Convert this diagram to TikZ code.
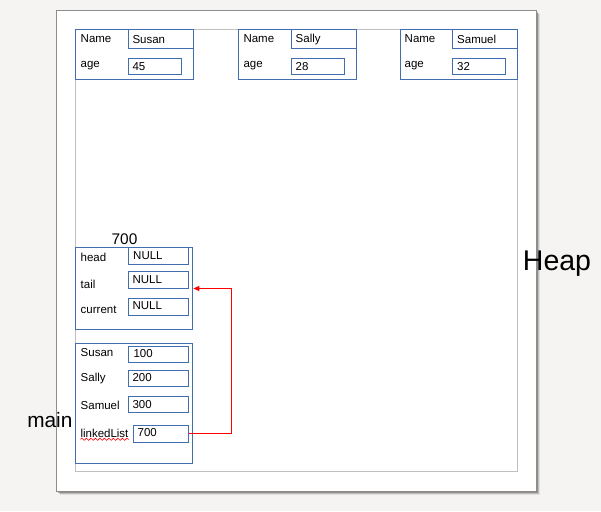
\documentclass[tikz,border=0pt]{standalone}
\usepackage{fontspec}
\setmainfont{Liberation Sans}
\usetikzlibrary{decorations.pathmorphing,arrows.meta}
\definecolor{bgc}{RGB}{245,244,242}
\definecolor{boxc}{RGB}{66,110,176}
\definecolor{pagebd}{RGB}{140,140,140}
\definecolor{marg}{RGB}{192,192,192}
\tikzset{
  recbox/.style={draw=boxc,line width=0.9pt},
  fieldbox/.style={draw=boxc,line width=1pt},
  lbl/.style={anchor=west,inner sep=0pt,font=\fontsize{11.5}{13}\selectfont},
  big/.style={inner sep=0pt,font=\fontsize{#1}{#1}\selectfont},
  ptr/.style={red,line width=1pt,-{Triangle[length=6pt,width=5pt]}}
}
\begin{document}
\begin{tikzpicture}[x=1pt,y=-1pt]
\useasboundingbox (0,0) rectangle (601,511);
\fill[bgc] (0,0) rectangle (601,511);
% page shadow
\fill[black,opacity=0.08] (60,14) rectangle (540,495);
\fill[black,opacity=0.15] (59,13) rectangle (539,494);
\fill[black,opacity=0.25] (58,12) rectangle (538,493);
\fill[black,opacity=0.4] (57,11) rectangle (537,492);
\fill[white] (56,10) rectangle (536,491);
\draw[pagebd,line width=0.6pt] (56,10) rectangle (536,491);
\draw[marg,line width=0.8pt] (75,29) rectangle (517.3,471.5);

% Susan
\draw[recbox] (75.3,29.3) rectangle (193,79.3);
\draw[fieldbox] (128,29.3) rectangle (193,48.3);
\draw[fieldbox] (128,58.3) rectangle (181,74.7);
\node[lbl] (sn1) at (80.5,38.5) {Name};
\node[lbl] (sa1) at (80.5,65.5) {age};
\node[lbl] (sv1) at (132.3,39.3) {Susan};
\node[lbl] (sv2) at (132.3,66.5) {45};

% Sally
\draw[recbox] (238.3,29.3) rectangle (356,79.3);
\draw[fieldbox] (291.3,29.3) rectangle (356,48.3);
\draw[fieldbox] (291.3,58.3) rectangle (344.3,74.3);
\node[lbl] (yn1) at (243.3,38.5) {Name};
\node[lbl] (ya1) at (243.3,65.5) {age};
\node[lbl] (yv1) at (295.5,39.3) {Sally};
\node[lbl] (yv2) at (295.5,66.3) {28};

% Samuel
\draw[recbox] (400,29.3) rectangle (517.3,79.3);
\draw[fieldbox] (452.7,29.3) rectangle (517.3,48.3);
\draw[fieldbox] (452.7,58.3) rectangle (505.3,74.3);
\node[lbl] (mn1) at (404.5,38.5) {Name};
\node[lbl] (ma1) at (404.5,65.5) {age};
\node[lbl] (mv1) at (457,39.3) {Samuel};
\node[lbl] (mv2) at (457,66.3) {32};

% list object 700
\node[big=15.4] (addr) at (124.5,239.5) {700};
\draw[recbox] (75.3,247.7) rectangle (192.7,329);
\draw[fieldbox] (128.7,247.7) rectangle (188.7,264.3);
\draw[fieldbox] (128,271.7) rectangle (188.7,288.3);
\draw[fieldbox] (128,298.3) rectangle (188.7,315);
\coordinate (tailend) at (193.3,288.5);
\node[lbl] (lh) at (80.5,257) {head};
\node[lbl] (lt) at (80.5,284) {tail};
\node[lbl] (lc) at (80.5,310) {current};
\node[lbl] (hv) at (133,255.5) {NULL};
\node[lbl] (tv) at (132.3,279.8) {NULL};
\node[lbl] (cv) at (132.3,305.8) {NULL};

% main frame
\draw[recbox] (75.3,343.3) rectangle (192.7,463.3);
\draw[fieldbox] (128.7,346) rectangle (188.7,362.7);
\draw[fieldbox] (128,370) rectangle (188.7,386.7);
\draw[fieldbox] (128,396.7) rectangle (188.7,412.7);
\draw[fieldbox] (133.3,425) rectangle (188.7,442.3);
\coordinate (llstart) at (189.2,433.5);
\coordinate (bend) at (231.5,288.5);
\node[lbl] (ms) at (80.5,352.7) {Susan};
\node[lbl] (my) at (80.5,378.5) {Sally};
\node[lbl] (mm) at (80.5,405.3) {Samuel};
\node[lbl] (ml) at (80.3,433) {linkedList};
\draw[red,line width=0.6pt,decorate,decoration={snake,amplitude=1.1pt,segment length=4.5pt}] (80.5,439.3) -- (129,439.3);
\node[lbl] (mv1b) at (133.3,353.7) {100};
\node[lbl] (mv2b) at (132.3,377.8) {200};
\node[lbl] (mv3b) at (132.3,404.5) {300};
\node[lbl] (mv4b) at (137.5,433) {700};

% pointer
\draw[ptr] (llstart) -| (bend) -- (tailend);

% side labels
\node[big=20.8] (mainlbl) at (49.8,419.8) {main};
\node[big=28.5] (heaplbl) at (557,264) {Heap};
\end{tikzpicture}
\end{document}
